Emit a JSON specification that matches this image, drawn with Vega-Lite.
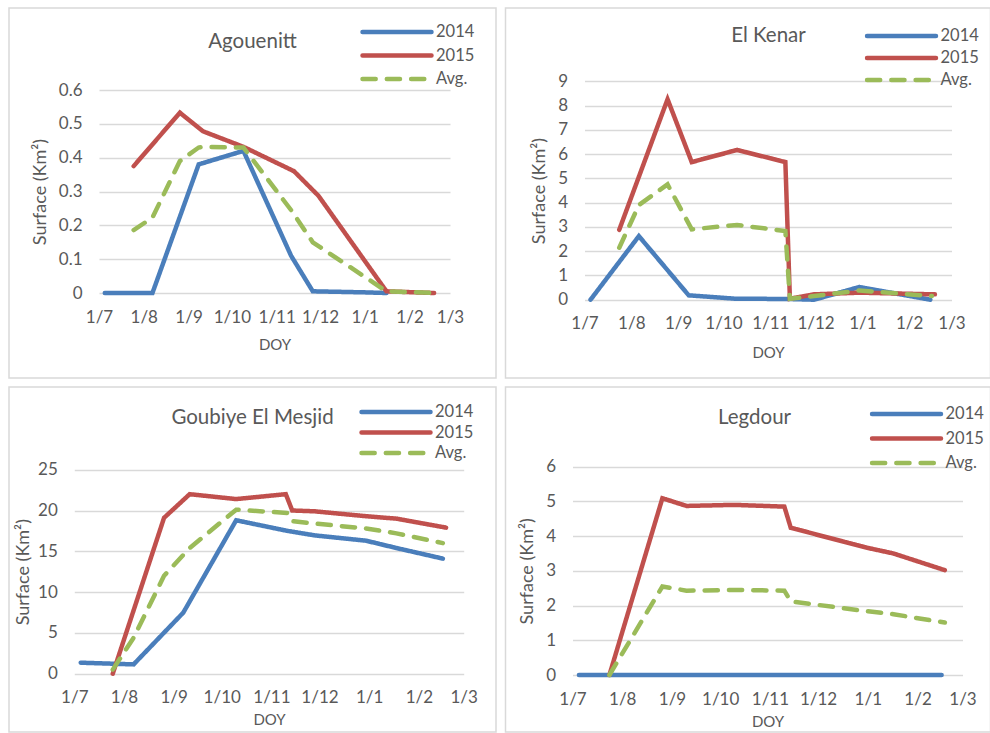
{
  "$schema": "https://vega.github.io/schema/vega-lite/v6.json",
  "padding": {"left": 8, "top": 7, "right": 0, "bottom": 0},
  "background": "white",
  "columns": 2,
  "bounds": "flush",
  "align": "all",
  "spacing": {"row": 9, "column": 9.5},
  "resolve": {"scale": {"color": "independent", "strokeDash": "independent"}, "legend": {"color": "independent", "strokeDash": "independent"}},
  "config": {
    "font": "Lato",
    "view": {"stroke": "#d9d9d9", "strokeWidth": 1.5},
    "axis": {"labelColor": "#595959", "titleColor": "#595959", "labelFont": "Lato", "titleFont": "Lato", "titleFontWeight": "normal", "ticks": false, "domain": false, "gridColor": "#d9d9d9", "gridWidth": 1.5, "labelFontSize": 17, "labelOverlap": false, "labelFlush": false},
    "axisX": {"grid": false, "format": "%-d/%-m", "formatType": "utc", "labelPadding": 16, "titlePadding": 12, "titleFontSize": 15},
    "axisY": {"grid": true, "labelPadding": 17, "titlePadding": 9, "titleFontSize": 18, "format": "~g"},
    "title": {"font": "Lato", "fontSize": 20.5, "fontWeight": "normal", "color": "#595959", "anchor": "middle", "frame": "group"},
    "legend": {"orient": "none", "title": null, "symbolType": "stroke", "symbolSize": 4761, "symbolStrokeWidth": 4.5, "labelFontSize": 16.5, "labelColor": "#595959", "labelFont": "Lato", "labelOffset": 2, "clipHeight": 20, "padding": 0}
  },
  "datasets": {
    "d": [
      {"site": "Agouenitt", "series": "2014", "date": "2014-07-05", "value": 0},
      {"site": "Agouenitt", "series": "2014", "date": "2014-08-07", "value": 0},
      {"site": "Agouenitt", "series": "2014", "date": "2014-09-08", "value": 0.38},
      {"site": "Agouenitt", "series": "2014", "date": "2014-10-09", "value": 0.42},
      {"site": "Agouenitt", "series": "2014", "date": "2014-11-11", "value": 0.11},
      {"site": "Agouenitt", "series": "2014", "date": "2014-11-26", "value": 0.005},
      {"site": "Agouenitt", "series": "2014", "date": "2014-12-31", "value": 0.002},
      {"site": "Agouenitt", "series": "2014", "date": "2015-01-16", "value": 0},
      {"site": "Agouenitt", "series": "2015", "date": "2014-07-25", "value": 0.375},
      {"site": "Agouenitt", "series": "2015", "date": "2014-08-26", "value": 0.533},
      {"site": "Agouenitt", "series": "2015", "date": "2014-09-11", "value": 0.478},
      {"site": "Agouenitt", "series": "2015", "date": "2014-10-09", "value": 0.432},
      {"site": "Agouenitt", "series": "2015", "date": "2014-11-13", "value": 0.36},
      {"site": "Agouenitt", "series": "2015", "date": "2014-11-30", "value": 0.287},
      {"site": "Agouenitt", "series": "2015", "date": "2015-01-16", "value": 0.005},
      {"site": "Agouenitt", "series": "2015", "date": "2015-02-18", "value": 0},
      {"site": "El Kenar", "series": "2014", "date": "2014-07-05", "value": 0},
      {"site": "El Kenar", "series": "2014", "date": "2014-08-06", "value": 2.62},
      {"site": "El Kenar", "series": "2014", "date": "2014-09-08", "value": 0.18},
      {"site": "El Kenar", "series": "2014", "date": "2014-10-09", "value": 0.04},
      {"site": "El Kenar", "series": "2014", "date": "2014-11-12", "value": 0.03},
      {"site": "El Kenar", "series": "2014", "date": "2014-11-30", "value": 0},
      {"site": "El Kenar", "series": "2014", "date": "2014-12-30", "value": 0.52},
      {"site": "El Kenar", "series": "2014", "date": "2015-02-15", "value": 0},
      {"site": "El Kenar", "series": "2015", "date": "2014-07-24", "value": 2.88},
      {"site": "El Kenar", "series": "2015", "date": "2014-08-25", "value": 8.26},
      {"site": "El Kenar", "series": "2015", "date": "2014-09-10", "value": 5.67},
      {"site": "El Kenar", "series": "2015", "date": "2014-10-10", "value": 6.17},
      {"site": "El Kenar", "series": "2015", "date": "2014-11-11", "value": 5.67},
      {"site": "El Kenar", "series": "2015", "date": "2014-11-14", "value": 0.04},
      {"site": "El Kenar", "series": "2015", "date": "2014-11-30", "value": 0.22},
      {"site": "El Kenar", "series": "2015", "date": "2014-12-30", "value": 0.29},
      {"site": "El Kenar", "series": "2015", "date": "2015-02-18", "value": 0.22},
      {"site": "Goubiye El Mesjid", "series": "2014", "date": "2014-07-05", "value": 1.35},
      {"site": "Goubiye El Mesjid", "series": "2014", "date": "2014-08-07", "value": 1.14},
      {"site": "Goubiye El Mesjid", "series": "2014", "date": "2014-09-07", "value": 7.48},
      {"site": "Goubiye El Mesjid", "series": "2014", "date": "2014-10-10", "value": 18.8},
      {"site": "Goubiye El Mesjid", "series": "2014", "date": "2014-11-11", "value": 17.5},
      {"site": "Goubiye El Mesjid", "series": "2014", "date": "2014-11-28", "value": 16.95},
      {"site": "Goubiye El Mesjid", "series": "2014", "date": "2014-12-30", "value": 16.3},
      {"site": "Goubiye El Mesjid", "series": "2014", "date": "2015-01-18", "value": 15.4},
      {"site": "Goubiye El Mesjid", "series": "2014", "date": "2015-02-16", "value": 14.1},
      {"site": "Goubiye El Mesjid", "series": "2015", "date": "2014-07-25", "value": 0},
      {"site": "Goubiye El Mesjid", "series": "2015", "date": "2014-08-26", "value": 19.1},
      {"site": "Goubiye El Mesjid", "series": "2015", "date": "2014-09-11", "value": 22},
      {"site": "Goubiye El Mesjid", "series": "2015", "date": "2014-10-10", "value": 21.4},
      {"site": "Goubiye El Mesjid", "series": "2015", "date": "2014-11-10", "value": 22},
      {"site": "Goubiye El Mesjid", "series": "2015", "date": "2014-11-14", "value": 20},
      {"site": "Goubiye El Mesjid", "series": "2015", "date": "2014-11-28", "value": 19.9},
      {"site": "Goubiye El Mesjid", "series": "2015", "date": "2014-12-30", "value": 19.3},
      {"site": "Goubiye El Mesjid", "series": "2015", "date": "2015-01-18", "value": 19},
      {"site": "Goubiye El Mesjid", "series": "2015", "date": "2015-02-18", "value": 17.9},
      {"site": "Legdour", "series": "2014", "date": "2014-07-05", "value": 0},
      {"site": "Legdour", "series": "2014", "date": "2015-02-16", "value": 0},
      {"site": "Legdour", "series": "2015", "date": "2014-07-24", "value": 0},
      {"site": "Legdour", "series": "2015", "date": "2014-08-26", "value": 5.09},
      {"site": "Legdour", "series": "2015", "date": "2014-09-10", "value": 4.87},
      {"site": "Legdour", "series": "2015", "date": "2014-10-10", "value": 4.9},
      {"site": "Legdour", "series": "2015", "date": "2014-11-10", "value": 4.85},
      {"site": "Legdour", "series": "2015", "date": "2014-11-14", "value": 4.24},
      {"site": "Legdour", "series": "2015", "date": "2014-12-31", "value": 3.67},
      {"site": "Legdour", "series": "2015", "date": "2015-01-17", "value": 3.5},
      {"site": "Legdour", "series": "2015", "date": "2015-02-18", "value": 3.02},
      {"site": "Agouenitt", "series": "Avg.", "date": "2014-07-25", "value": 0.186},
      {"site": "Agouenitt", "series": "Avg.", "date": "2014-08-07", "value": 0.223},
      {"site": "Agouenitt", "series": "Avg.", "date": "2014-08-26", "value": 0.39},
      {"site": "Agouenitt", "series": "Avg.", "date": "2014-09-08", "value": 0.43},
      {"site": "Agouenitt", "series": "Avg.", "date": "2014-09-11", "value": 0.432},
      {"site": "Agouenitt", "series": "Avg.", "date": "2014-10-09", "value": 0.43},
      {"site": "Agouenitt", "series": "Avg.", "date": "2014-11-11", "value": 0.245},
      {"site": "Agouenitt", "series": "Avg.", "date": "2014-11-26", "value": 0.15},
      {"site": "Agouenitt", "series": "Avg.", "date": "2015-01-16", "value": 0.005},
      {"site": "Agouenitt", "series": "Avg.", "date": "2015-02-18", "value": 0},
      {"site": "El Kenar", "series": "Avg.", "date": "2014-07-24", "value": 2.14},
      {"site": "El Kenar", "series": "Avg.", "date": "2014-08-06", "value": 3.9},
      {"site": "El Kenar", "series": "Avg.", "date": "2014-08-25", "value": 4.75},
      {"site": "El Kenar", "series": "Avg.", "date": "2014-09-10", "value": 2.9},
      {"site": "El Kenar", "series": "Avg.", "date": "2014-10-10", "value": 3.08},
      {"site": "El Kenar", "series": "Avg.", "date": "2014-11-11", "value": 2.83},
      {"site": "El Kenar", "series": "Avg.", "date": "2014-11-14", "value": 0.04},
      {"site": "El Kenar", "series": "Avg.", "date": "2014-11-30", "value": 0.15},
      {"site": "El Kenar", "series": "Avg.", "date": "2014-12-30", "value": 0.38},
      {"site": "El Kenar", "series": "Avg.", "date": "2015-02-16", "value": 0.15},
      {"site": "Goubiye El Mesjid", "series": "Avg.", "date": "2014-07-25", "value": 0.5},
      {"site": "Goubiye El Mesjid", "series": "Avg.", "date": "2014-08-07", "value": 4.4},
      {"site": "Goubiye El Mesjid", "series": "Avg.", "date": "2014-08-26", "value": 12},
      {"site": "Goubiye El Mesjid", "series": "Avg.", "date": "2014-09-11", "value": 15.4},
      {"site": "Goubiye El Mesjid", "series": "Avg.", "date": "2014-10-10", "value": 20.1},
      {"site": "Goubiye El Mesjid", "series": "Avg.", "date": "2014-11-11", "value": 19.7},
      {"site": "Goubiye El Mesjid", "series": "Avg.", "date": "2014-11-14", "value": 18.7},
      {"site": "Goubiye El Mesjid", "series": "Avg.", "date": "2014-11-28", "value": 18.4},
      {"site": "Goubiye El Mesjid", "series": "Avg.", "date": "2014-12-30", "value": 17.8},
      {"site": "Goubiye El Mesjid", "series": "Avg.", "date": "2015-01-18", "value": 17.2},
      {"site": "Goubiye El Mesjid", "series": "Avg.", "date": "2015-02-16", "value": 16},
      {"site": "Legdour", "series": "Avg.", "date": "2014-07-24", "value": 0},
      {"site": "Legdour", "series": "Avg.", "date": "2014-08-26", "value": 2.55},
      {"site": "Legdour", "series": "Avg.", "date": "2014-09-10", "value": 2.43},
      {"site": "Legdour", "series": "Avg.", "date": "2014-10-10", "value": 2.45},
      {"site": "Legdour", "series": "Avg.", "date": "2014-11-10", "value": 2.43},
      {"site": "Legdour", "series": "Avg.", "date": "2014-11-14", "value": 2.12},
      {"site": "Legdour", "series": "Avg.", "date": "2014-12-31", "value": 1.84},
      {"site": "Legdour", "series": "Avg.", "date": "2015-01-17", "value": 1.75},
      {"site": "Legdour", "series": "Avg.", "date": "2015-02-18", "value": 1.51}
    ]
  },
  "concat": [
    {
      "width": 487, "height": 370,
      "title": {"text": "Agouenitt", "offset": -44, "dx": 0},
      "data": {"name": "d"},
      "transform": [{"filter": "datum.site === 'Agouenitt'"}],
      "mark": {"type": "line", "strokeWidth": 4.5, "strokeCap": "round"},
      "encoding": {
        "x": {"field": "date", "type": "temporal", "scale": {"type": "utc", "domain": [{"year": 2014, "month": 7, "date": 1, "utc": true}, {"year": 2015, "month": 3, "date": 1, "utc": true}], "range": [90, 441]},
          "axis": {"title": "DOY", "offset": -85, "values": [{"year": 2014, "month": 7, "date": 1, "utc": true}, {"year": 2014, "month": 8, "date": 1, "utc": true}, {"year": 2014, "month": 9, "date": 1, "utc": true}, {"year": 2014, "month": 10, "date": 1, "utc": true}, {"year": 2014, "month": 11, "date": 1, "utc": true}, {"year": 2014, "month": 12, "date": 1, "utc": true}, {"year": 2015, "month": 1, "date": 1, "utc": true}, {"year": 2015, "month": 2, "date": 1, "utc": true}, {"year": 2015, "month": 3, "date": 1, "utc": true}]}},
        "y": {"field": "value", "type": "quantitative", "scale": {"domain": [0, 0.6], "range": [285, 82]},
          "axis": {"title": "Surface (Km²)", "offset": -90, "values": [0, 0.1, 0.2, 0.3, 0.4, 0.5, 0.6]}},
        "color": {"field": "series", "type": "nominal", "scale": {"domain": ["2014", "2015", "Avg."], "range": ["#4a7ebb", "#c0504d", "#9bbb59"]},
          "legend": {"legendX": 351, "legendY": 14, "rowPadding": 3.5, "encode": {"symbols": {"update": {"strokeCap": {"value": "round"}}}}}},
        "strokeDash": {"field": "series", "type": "nominal", "scale": {"domain": ["2014", "2015", "Avg."], "range": [[1, 0], [1, 0], [13.2, 11.1]]},
          "legend": {"legendX": 351, "legendY": 14, "rowPadding": 3.5, "encode": {"symbols": {"update": {"strokeCap": {"value": "round"}}}}}}
      }
    },
    {
      "width": 485, "height": 370,
      "title": {"text": "El Kenar", "offset": -38, "dx": 20.5},
      "data": {"name": "d"},
      "transform": [{"filter": "datum.site === 'El Kenar'"}],
      "mark": {"type": "line", "strokeWidth": 4.5, "strokeCap": "round"},
      "encoding": {
        "x": {"field": "date", "type": "temporal", "scale": {"type": "utc", "domain": [{"year": 2014, "month": 7, "date": 1, "utc": true}, {"year": 2015, "month": 3, "date": 1, "utc": true}], "range": [79, 446]},
          "axis": {"title": "DOY", "offset": -78.3, "titlePadding": 14, "values": [{"year": 2014, "month": 7, "date": 1, "utc": true}, {"year": 2014, "month": 8, "date": 1, "utc": true}, {"year": 2014, "month": 9, "date": 1, "utc": true}, {"year": 2014, "month": 10, "date": 1, "utc": true}, {"year": 2014, "month": 11, "date": 1, "utc": true}, {"year": 2014, "month": 12, "date": 1, "utc": true}, {"year": 2015, "month": 1, "date": 1, "utc": true}, {"year": 2015, "month": 2, "date": 1, "utc": true}, {"year": 2015, "month": 3, "date": 1, "utc": true}]}},
        "y": {"field": "value", "type": "quantitative", "scale": {"domain": [0, 9], "range": [291.7, 73.3]},
          "axis": {"title": "Surface (Km²)", "offset": -79, "values": [0, 1, 2, 3, 4, 5, 6, 7, 8, 9]}},
        "color": {"field": "series", "type": "nominal", "scale": {"domain": ["2014", "2015", "Avg."], "range": ["#4a7ebb", "#c0504d", "#9bbb59"]},
          "legend": {"legendX": 359, "legendY": 18, "rowPadding": 2, "encode": {"symbols": {"update": {"strokeCap": {"value": "round"}}}}}},
        "strokeDash": {"field": "series", "type": "nominal", "scale": {"domain": ["2014", "2015", "Avg."], "range": [[1, 0], [1, 0], [13.2, 11.1]]},
          "legend": {"legendX": 359, "legendY": 18, "rowPadding": 2, "encode": {"symbols": {"update": {"strokeCap": {"value": "round"}}}}}}
      }
    },
    {
      "width": 487, "height": 345,
      "title": {"text": "Goubiye El Mesjid", "offset": -41, "dx": 0},
      "data": {"name": "d"},
      "transform": [{"filter": "datum.site === 'Goubiye El Mesjid'"}],
      "mark": {"type": "line", "strokeWidth": 4.5, "strokeCap": "round"},
      "encoding": {
        "x": {"field": "date", "type": "temporal", "scale": {"type": "utc", "domain": [{"year": 2014, "month": 7, "date": 1, "utc": true}, {"year": 2015, "month": 3, "date": 1, "utc": true}], "range": [65.3, 454.7]},
          "axis": {"title": "DOY", "offset": -58.3, "titlePadding": 7, "values": [{"year": 2014, "month": 7, "date": 1, "utc": true}, {"year": 2014, "month": 8, "date": 1, "utc": true}, {"year": 2014, "month": 9, "date": 1, "utc": true}, {"year": 2014, "month": 10, "date": 1, "utc": true}, {"year": 2014, "month": 11, "date": 1, "utc": true}, {"year": 2014, "month": 12, "date": 1, "utc": true}, {"year": 2015, "month": 1, "date": 1, "utc": true}, {"year": 2015, "month": 2, "date": 1, "utc": true}, {"year": 2015, "month": 3, "date": 1, "utc": true}]}},
        "y": {"field": "value", "type": "quantitative", "scale": {"domain": [0, 25], "range": [286.7, 82.7]},
          "axis": {"title": "Surface (Km²)", "offset": -65.3, "titlePadding": 5, "values": [0, 5, 10, 15, 20, 25]}},
        "color": {"field": "series", "type": "nominal", "scale": {"domain": ["2014", "2015", "Avg."], "range": ["#4a7ebb", "#c0504d", "#9bbb59"]},
          "legend": {"legendX": 350, "legendY": 15, "rowPadding": 0.5, "encode": {"symbols": {"update": {"strokeCap": {"value": "round"}}}}}},
        "strokeDash": {"field": "series", "type": "nominal", "scale": {"domain": ["2014", "2015", "Avg."], "range": [[1, 0], [1, 0], [13.2, 11.1]]},
          "legend": {"legendX": 350, "legendY": 15, "rowPadding": 0.5, "encode": {"symbols": {"update": {"strokeCap": {"value": "round"}}}}}}
      }
    },
    {
      "width": 485, "height": 345,
      "title": {"text": "Legdour", "offset": -41, "dx": 6.5},
      "data": {"name": "d"},
      "transform": [{"filter": "datum.site === 'Legdour'"}],
      "mark": {"type": "line", "strokeWidth": 4.5, "strokeCap": "round"},
      "encoding": {
        "x": {"field": "date", "type": "temporal", "scale": {"type": "utc", "domain": [{"year": 2014, "month": 7, "date": 1, "utc": true}, {"year": 2015, "month": 3, "date": 1, "utc": true}], "range": [67, 457]},
          "axis": {"title": "DOY", "offset": -57, "titlePadding": 7, "values": [{"year": 2014, "month": 7, "date": 1, "utc": true}, {"year": 2014, "month": 8, "date": 1, "utc": true}, {"year": 2014, "month": 9, "date": 1, "utc": true}, {"year": 2014, "month": 10, "date": 1, "utc": true}, {"year": 2014, "month": 11, "date": 1, "utc": true}, {"year": 2014, "month": 12, "date": 1, "utc": true}, {"year": 2015, "month": 1, "date": 1, "utc": true}, {"year": 2015, "month": 2, "date": 1, "utc": true}, {"year": 2015, "month": 3, "date": 1, "utc": true}]}},
        "y": {"field": "value", "type": "quantitative", "scale": {"domain": [0, 6], "range": [288, 79.7]},
          "axis": {"title": "Surface (Km²)", "offset": -67, "values": [0, 1, 2, 3, 4, 5, 6]}},
        "color": {"field": "series", "type": "nominal", "scale": {"domain": ["2014", "2015", "Avg."], "range": ["#4a7ebb", "#c0504d", "#9bbb59"]},
          "legend": {"legendX": 364, "legendY": 17, "rowPadding": 4.5, "encode": {"symbols": {"update": {"strokeCap": {"value": "round"}}}}}},
        "strokeDash": {"field": "series", "type": "nominal", "scale": {"domain": ["2014", "2015", "Avg."], "range": [[1, 0], [1, 0], [13.2, 11.1]]},
          "legend": {"legendX": 364, "legendY": 17, "rowPadding": 4.5, "encode": {"symbols": {"update": {"strokeCap": {"value": "round"}}}}}}
      }
    }
  ]
}
